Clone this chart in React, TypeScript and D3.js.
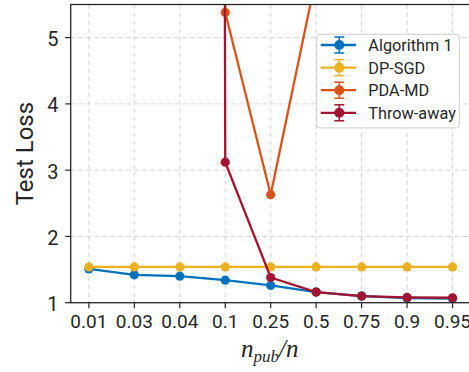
import React from "react";
import * as d3 from "d3";

const categories = ["0.01", "0.03", "0.04", "0.1", "0.25", "0.5", "0.75", "0.9", "0.95"];
const algorithm1 = [1.51, 1.42, 1.40, 1.34, 1.26, 1.16, 1.10, 1.07, 1.06];
const dpSgd = [1.54, 1.54, 1.54, 1.54, 1.54, 1.54, 1.54, 1.54, 1.54];
const pdaMd = [400, 400, 400, 5.38, 2.63, 5.92, 40, 40, 40];
const throwAway = [300, 300, 300, 3.12, 1.38, 1.16, 1.10, 1.08, 1.075];
const yTicks = [1, 2, 3, 4, 5];

const seriesNames = ["Algorithm 1", "DP-SGD", "PDA-MD", "Throw-away"];
const seriesValues = [algorithm1, dpSgd, pdaMd, throwAway];
const colors = ["#0072BD", "#EDB120", "#D95319", "#A2142F"];

export default function App() {
  const W = 469, H = 372;
  const L = 70.7, R = 470.7, T = 4.5, B = 302.7;
  const x = d3.scalePoint<string>().domain(categories).range([L, R]).padding(0.4);
  const y = d3.scaleLinear().domain([1, 5.5]).range([B, T]);
  const line = d3
    .line<number>()
    .x((_, i) => x(categories[i]) as number)
    .y((d) => y(d));
  const textColor = "#262626";
  const tickFont = "Roboto, sans-serif";
  return (
    <svg width={W} height={H} style={{ position: "absolute", left: 0, top: 0, background: "#fff" }}>
      <defs>
        <clipPath id="plotclip">
          <rect x={L} y={T} width={R - L} height={B - T} />
        </clipPath>
      </defs>
      <rect x={0} y={0} width={W} height={H} fill="#fff" />
      {/* grid */}
      <g stroke="#d3d3d3" strokeWidth={1} strokeDasharray="4.5,3.5">
        {categories.map((c) => (
          <line key={c} x1={x(c)} x2={x(c)} y1={T} y2={B} />
        ))}
        {yTicks.map((t) => (
          <line key={t} x1={L} x2={R} y1={y(t)} y2={y(t)} />
        ))}
      </g>
      {/* data */}
      <g clipPath="url(#plotclip)">
        {seriesValues.map((vals, si) => (
          <g key={si}>
            <path d={line(vals) || ""} fill="none" stroke={colors[si]} strokeWidth={2.3} strokeLinejoin="round" />
            {vals.map((v, i) => (
              <circle key={i} cx={x(categories[i])} cy={y(v)} r={4.6} fill={colors[si]} />
            ))}
          </g>
        ))}
      </g>
      {/* spines */}
      <rect x={L} y={T} width={R - L} height={B - T} fill="none" stroke={textColor} strokeWidth={1.3} />
      {/* y ticks */}
      {yTicks.map((t) => (
        <g key={t}>
          <line x1={L - 5.5} x2={L} y1={y(t)} y2={y(t)} stroke={textColor} strokeWidth={1.2} />
          <text x={58.5} y={y(t) + 1.5} textAnchor="end" dominantBaseline="central" fontFamily={tickFont} fontSize={20} fill={textColor}>
            {t}
          </text>
        </g>
      ))}
      {/* x ticks */}
      {categories.map((c) => (
        <g key={c}>
          <line x1={x(c)} x2={x(c)} y1={B} y2={B + 5.5} stroke={textColor} strokeWidth={1.2} />
          <text x={x(c)} y={328.3} textAnchor="middle" fontFamily={tickFont} fontSize={19} fill={textColor}>
            {c}
          </text>
        </g>
      ))}
      {/* axis labels */}
      <text
        transform={`translate(32.5,${(T + B) / 2}) rotate(-90)`}
        textAnchor="middle"
        fontFamily={tickFont}
        fontSize={24}
        fill={textColor}
      >
        Test Loss
      </text>
      <text x={(L + R) / 2 - 1} y={357} textAnchor="middle" fontFamily="'Liberation Serif', serif" fontStyle="italic" fontSize={25} fill={textColor}>
        n
        <tspan dy={5} fontSize={17}>pub</tspan>
        <tspan dy={-5}>/n</tspan>
      </text>
      {/* legend */}
      <rect x={316.7} y={34.3} width={142.6} height={93.6} rx={3} fill="#fff" fillOpacity={0.85} stroke="#cccccc" strokeWidth={1} />
      {seriesNames.map((name, i) => {
        const cy = 45 + i * 22.6;
        return (
          <g key={name}>
            <line x1={320.7} x2={356} y1={cy} y2={cy} stroke={colors[i]} strokeWidth={2.3} />
            <line x1={339.3} x2={339.3} y1={cy - 8} y2={cy + 8} stroke={colors[i]} strokeWidth={1.5} />
            <line x1={334.3} x2={344.3} y1={cy - 8} y2={cy - 8} stroke={colors[i]} strokeWidth={1.5} />
            <line x1={334.3} x2={344.3} y1={cy + 8} y2={cy + 8} stroke={colors[i]} strokeWidth={1.5} />
            <circle cx={339.3} cy={cy} r={5} fill={colors[i]} />
            <text x={368.3} y={cy + 0.5} dominantBaseline="central" fontFamily={tickFont} fontSize={16.3} fill={textColor}>
              {name}
            </text>
          </g>
        );
      })}
    </svg>
  );
}
